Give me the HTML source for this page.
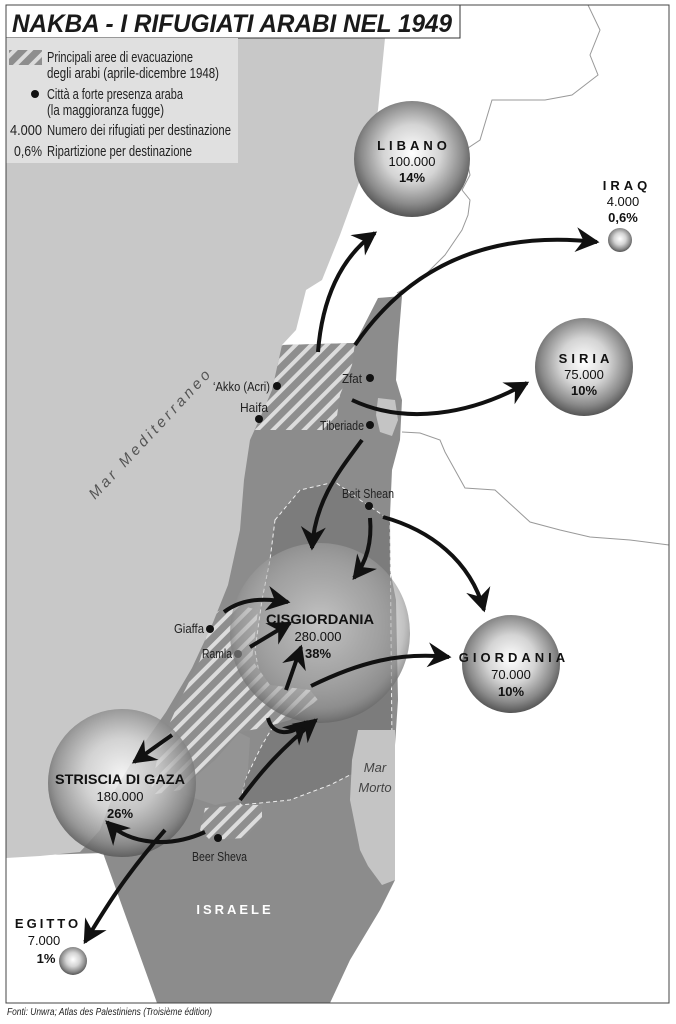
<!DOCTYPE html>
<html><head><meta charset="utf-8"><style>
html,body{margin:0;padding:0;background:#fff;}
svg{display:block;}
text{font-family:"Liberation Sans",sans-serif;}
</style></head><body>
<svg width="676" height="1024" viewBox="0 0 676 1024" xmlns="http://www.w3.org/2000/svg">
<defs>
<pattern id="hatch" patternUnits="userSpaceOnUse" width="11" height="11" patternTransform="rotate(45)">
<rect width="11" height="11" fill="#8e8e8e"/><rect x="0" y="0" width="4" height="11" fill="#dcdcdc"/>
</pattern>
<radialGradient id="sph" cx="50%" cy="45%" r="55%">
<stop offset="0" stop-color="#ffffff"/><stop offset="0.45" stop-color="#d4d4d4"/><stop offset="0.8" stop-color="#8a8a8a"/><stop offset="1" stop-color="#555"/>
</radialGradient>
<radialGradient id="sphT" cx="50%" cy="45%" r="55%">
<stop offset="0" stop-color="#ffffff" stop-opacity="0.55"/><stop offset="0.5" stop-color="#d8d8d8" stop-opacity="0.45"/><stop offset="0.85" stop-color="#999" stop-opacity="0.6"/><stop offset="1" stop-color="#666" stop-opacity="0.8"/>
</radialGradient>
<marker id="ah" markerUnits="userSpaceOnUse" markerWidth="30" markerHeight="30" viewBox="-20 -12 24 24" refX="0" refY="0" orient="auto">
<path d="M2,0 L-17,-10 L-11,0 L-17,10 Z" fill="#111"/>
</marker>
</defs>

<g fill="none" stroke="#999" stroke-width="1">
<path d="M588,5 L600,30 L590,55 L598,75 L572,95 L545,100 L492,100 L480,140 L465,150 L470,175 L462,190 L470,200 L468,215 L462,230 L445,255 L420,280 L397,293"/>
<path d="M402,432 L420,433 L440,440 L445,452 L465,488 L495,490 L530,522 L560,530 L590,537 L630,540 L669,545"/>
</g>

<!-- Israel -->
<polygon fill="#8c8c8c" points="250,345 282,345 355,343 378,298 402,296 398,345 396,380 402,400 400,440 392,470 388,560 396,600 398,700 395,745 395,880 380,910 350,960 330,1003 157,1003 103,853 40,855"/>
<path d="M378,398 L395,400 L398,420 L392,436 L380,432 L376,415 Z" fill="#c4c4c4"/>
<path d="M275,520 L300,490 L335,482 L360,500 L390,520 L392,745 L370,765 L330,785 L290,800 L240,805 L245,780 L262,745 L280,715 L262,690 L255,650 L262,600 L270,560 Z" fill="#7c7c7c" stroke="#eee" stroke-width="1" stroke-dasharray="4,3"/>
<path d="M200,740 L230,728 L250,738 L248,770 L240,800 L215,805 L185,795 L170,770 Z" fill="#949494"/>
<path d="M282,345 L355,343 L352,365 L340,395 L335,430 L255,430 L262,410 L272,390 Z" fill="url(#hatch)"/>
<path d="M212,615 L232,603 L258,610 L252,660 L270,685 L310,690 L318,700 L290,720 L262,728 L240,732 L215,760 L180,790 L150,795 L160,745 L180,700 L200,660 Z" fill="url(#hatch)"/>
<path d="M205,808 L240,805 L262,805 L262,820 L245,838 L210,840 L200,830 Z" fill="url(#hatch)"/>
<!-- Dead sea -->
<path d="M358,730 L395,730 L395,880 L382,885 L368,866 L360,850 L350,800 L352,760 Z" fill="#c4c4c4"/>

<!-- sea -->
<polygon fill="#c8c8c8" points="6,38 385,38 378,110 360,180 340,235 322,280 306,290 296,330 282,345 272,390 260,418 250,440 244,480 240,530 228,585 212,625 192,668 166,712 138,752 115,790 100,830 80,852 40,856 6,858"/>

<rect x="6" y="5" width="454" height="33" fill="#fff" stroke="#333" stroke-width="1"/>
<text x="12" y="32" font-size="25" font-weight="bold" font-style="italic" textLength="440" lengthAdjust="spacingAndGlyphs" fill="#1a1a1a">NAKBA - I RIFUGIATI ARABI NEL 1949</text>

<rect x="6" y="38" width="232" height="125" fill="#e0e0e0"/>
<rect x="9" y="50" width="33" height="15" fill="url(#hatch)"/>
<g font-size="15" fill="#222">
<text x="47" y="62" textLength="146" lengthAdjust="spacingAndGlyphs">Principali aree di evacuazione</text>
<text x="47" y="78" textLength="172" lengthAdjust="spacingAndGlyphs">degli arabi (aprile-dicembre 1948)</text>
<circle cx="35" cy="94" r="4" fill="#111"/>
<text x="47" y="99" textLength="136" lengthAdjust="spacingAndGlyphs">Città a forte presenza araba</text>
<text x="47" y="115" textLength="117" lengthAdjust="spacingAndGlyphs">(la maggioranza fugge)</text>
<text x="10" y="135" textLength="32" lengthAdjust="spacingAndGlyphs">4.000</text>
<text x="47" y="135" textLength="184" lengthAdjust="spacingAndGlyphs">Numero dei rifugiati per destinazione</text>
<text x="14" y="156" textLength="28" lengthAdjust="spacingAndGlyphs">0,6%</text>
<text x="47" y="156" textLength="145" lengthAdjust="spacingAndGlyphs">Ripartizione per destinazione</text>
</g>

<text transform="translate(95,500) rotate(-47)" font-family="Liberation Serif,serif" font-style="italic" font-size="15" fill="#555" textLength="170" lengthAdjust="spacing">Mar Mediterraneo</text>

<circle cx="412" cy="159" r="58" fill="url(#sph)"/>
<circle cx="620" cy="240" r="12" fill="url(#sph)"/>
<circle cx="584" cy="367" r="49" fill="url(#sph)"/>
<circle cx="511" cy="664" r="49" fill="url(#sph)"/>
<circle cx="73" cy="961" r="14" fill="url(#sph)"/>

<g fill="#111">
<circle cx="277" cy="386" r="4"/><circle cx="259" cy="419" r="4"/><circle cx="370" cy="378" r="4"/><circle cx="370" cy="425" r="4"/><circle cx="369" cy="506" r="4"/><circle cx="210" cy="629" r="4"/><circle cx="238" cy="654" r="4"/><circle cx="218" cy="838" r="4"/>
</g>
<g font-size="13" fill="#222">
<text x="270" y="391" text-anchor="end" textLength="57" lengthAdjust="spacingAndGlyphs">‘Akko (Acri)</text>
<text x="254" y="412" text-anchor="middle" textLength="28" lengthAdjust="spacingAndGlyphs">Haifa</text>
<text x="362" y="383" text-anchor="end" textLength="20" lengthAdjust="spacingAndGlyphs">Zfat</text>
<text x="364" y="430" text-anchor="end" textLength="44" lengthAdjust="spacingAndGlyphs">Tiberiade</text>
<text x="342" y="498" textLength="52" lengthAdjust="spacingAndGlyphs">Beit Shean</text>
<text x="204" y="633" text-anchor="end" textLength="30" lengthAdjust="spacingAndGlyphs">Giaffa</text>
<text x="232" y="658" text-anchor="end" textLength="30" lengthAdjust="spacingAndGlyphs">Ramla</text>
<text x="192" y="861" textLength="55" lengthAdjust="spacingAndGlyphs">Beer Sheva</text>
</g>

<circle cx="320" cy="633" r="90" fill="url(#sphT)"/>
<circle cx="122" cy="783" r="74" fill="url(#sphT)"/>
<circle cx="122" cy="783" r="74" fill="url(#sph)" opacity="0.55"/>

<g fill="none" stroke="#111" stroke-width="4" marker-end="url(#ah)">
<path d="M318,352 C322,300 340,258 375,233"/>
<path d="M355,345 C410,265 490,230 597,242"/>
<path d="M352,400 C405,425 470,415 527,383"/>
<path d="M362,440 C340,470 315,500 312,548"/>
<path d="M370,518 C372,540 368,560 354,578"/>
<path d="M383,517 C430,530 470,560 484,610"/>
<path d="M224,612 C240,600 260,597 288,602"/>
<path d="M250,647 L290,623"/>
<path d="M286,690 L301,647"/>
<path d="M311,686 C360,662 400,652 449,657"/>
<path d="M268,718 C272,735 290,737 306,722"/>
<path d="M240,800 C262,770 282,748 316,720"/>
<path d="M172,735 L134,762"/>
<path d="M205,832 C170,848 130,845 107,822"/>
<path d="M165,830 C130,870 110,900 85,942"/>
</g>

<g fill="#111" text-anchor="middle">
<text x="414" y="150" font-size="13" font-weight="bold" letter-spacing="4">LIBANO</text>
<text x="412" y="166" font-size="13">100.000</text>
<text x="412" y="182" font-size="13" font-weight="bold">14%</text>
<text x="627" y="190" font-size="13" font-weight="bold" letter-spacing="4">IRAQ</text>
<text x="623" y="206" font-size="13">4.000</text>
<text x="623" y="222" font-size="13" font-weight="bold">0,6%</text>
<text x="586" y="363" font-size="13" font-weight="bold" letter-spacing="4">SIRIA</text>
<text x="584" y="379" font-size="13">75.000</text>
<text x="584" y="395" font-size="13" font-weight="bold">10%</text>
<text x="320" y="624" font-size="14" font-weight="bold" textLength="108" lengthAdjust="spacingAndGlyphs">CISGIORDANIA</text>
<text x="318" y="641" font-size="13">280.000</text>
<text x="318" y="658" font-size="13" font-weight="bold">38%</text>
<text x="514" y="662" font-size="13" font-weight="bold" letter-spacing="4">GIORDANIA</text>
<text x="511" y="679" font-size="13">70.000</text>
<text x="511" y="696" font-size="13" font-weight="bold">10%</text>
<text x="120" y="784" font-size="14" font-weight="bold" textLength="130" lengthAdjust="spacingAndGlyphs">STRISCIA DI GAZA</text>
<text x="120" y="801" font-size="13">180.000</text>
<text x="120" y="818" font-size="13" font-weight="bold">26%</text>
<text x="48" y="928" font-size="13" font-weight="bold" letter-spacing="3">EGITTO</text>
<text x="44" y="945" font-size="13">7.000</text>
<text x="46" y="963" font-size="13" font-weight="bold">1%</text>
<text x="235" y="914" font-size="13" font-weight="bold" letter-spacing="3" fill="#fff">ISRAELE</text>
<text x="375" y="772" font-size="13" font-style="italic" font-family="Liberation Serif,serif" fill="#444">Mar</text>
<text x="375" y="792" font-size="13" font-style="italic" font-family="Liberation Serif,serif" fill="#444">Morto</text>
</g>

<rect x="6" y="5" width="663" height="998" fill="none" stroke="#444" stroke-width="1"/>
<text x="7" y="1015" font-size="10" font-style="italic" fill="#222" textLength="205" lengthAdjust="spacingAndGlyphs">Fonti: Unwra; Atlas des Palestiniens (Troisième édition)</text>
</svg>
</body></html>
